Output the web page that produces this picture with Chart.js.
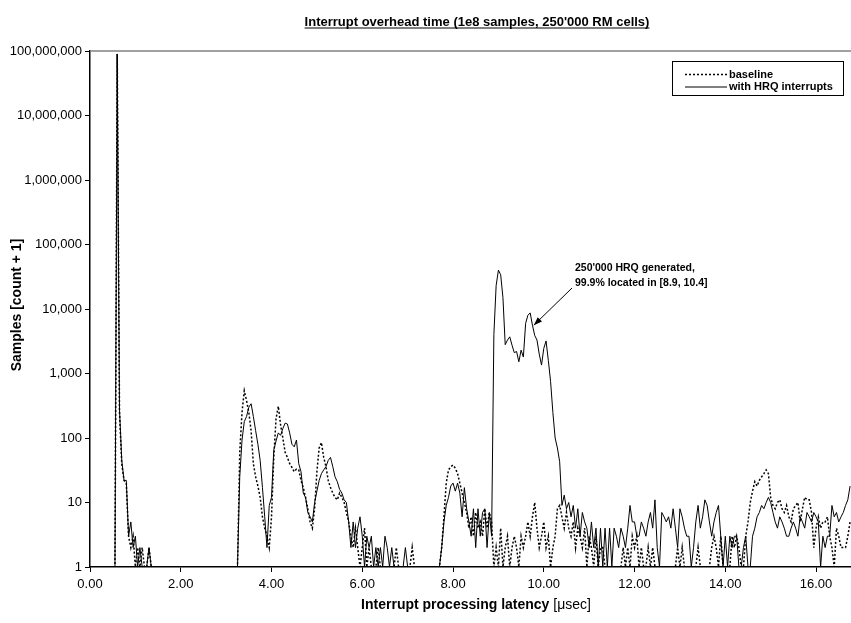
<!DOCTYPE html>
<html>
<head>
<meta charset="utf-8">
<script src="https://cdn.jsdelivr.net/npm/chart.js@4/dist/chart.umd.min.js"></script>
<style>
  html, body { margin: 0; padding: 0; background: #fff; }
</style>
</head>
<body>
<canvas id="chart" width="851" height="623"></canvas>
<script>
// Histogram of interrupt latency, one value per 0.05 usec bin (count + 1)
const binWidth = 0.05;
const xMax = 16.77;
const xTicks = [0, 2, 4, 6, 8, 10, 12, 14, 16];
const yTicks = [1, 10, 100, 1000, 10000, 100000, 1000000, 10000000, 100000000];

const chartTitle = "Interrupt overhead time (1e8 samples, 250'000 RM cells)";
const xTitleBold = 'Interrupt processing latency ';
const xTitleUnit = '[\u03bcsec]';
const yTitle = 'Samples [count + 1]';
const seriesLabels = ['baseline', 'with HRQ interrupts'];
const noteLines = ["250'000 HRQ generated,", '99.9% located in [8.9, 10.4]'];
const noteTip = [9.78, 5600];

const baseline = [
    1, 1, 1, 1, 1, 1, 1, 1, 1, 1,
    1, 1, 90000000, 250, 40, 22, 20, 3, 2, 3,
    1, 2, 1, 2, 1, 1, 2, 1, 1, 1,
    1, 1, 1, 1, 1, 1, 1, 1, 1, 1,
    1, 1, 1, 1, 1, 1, 1, 1, 1, 1,
    1, 1, 1, 1, 1, 1, 1, 1, 1, 1,
    1, 1, 1, 1, 1, 1, 60, 250, 540, 380,
    250, 130, 40, 25, 18, 12, 6, 4, 3, 2,
    6, 50, 200, 310, 160, 100, 60, 50, 40, 35,
    30, 33, 32, 22, 17, 12, 8, 5, 4, 8,
    30, 70, 85, 50, 36, 22, 17, 14, 12, 11,
    14, 12, 10, 7, 5, 3, 2, 4, 2, 1,
    2, 4, 1, 2, 1, 1, 1, 2, 1, 1,
    1, 1, 1, 1, 1, 2, 1, 1, 1, 1,
    1, 1, 2, 1, 1, 1, 1, 1, 1, 1,
    1, 1, 1, 1, 1, 2, 6, 20, 32, 36,
    38, 34, 28, 20, 14, 10, 7, 4, 6, 3,
    7, 4, 5, 3, 8, 4, 7, 5, 1, 2,
    1, 4, 1, 2, 3, 1, 2, 3, 2, 1,
    3, 2, 3, 5, 3, 6, 10, 4, 2, 3,
    5, 2, 3, 1, 2, 3, 8, 9, 6, 4,
    7, 4, 3, 5, 2, 4, 3, 2, 4, 1,
    3, 2, 1, 3, 1, 2, 2, 1, 1, 1,
    1, 1, 1, 1, 1, 2, 1, 2, 1, 3,
    2, 3, 1, 2, 1, 1, 2, 1, 2, 1,
    1, 1, 1, 1, 1, 1, 1, 1, 1, 2,
    1, 2, 1, 1, 1, 1, 1, 1, 2, 1,
    1, 1, 1, 1, 2, 3, 2, 1, 3, 1,
    1, 1, 1, 3, 2, 3, 2, 1, 1, 3,
    5, 10, 15, 21, 18, 22, 25, 28, 32, 28,
    12, 9, 8, 10, 11, 8, 7, 9, 6, 5,
    8, 9, 10, 5, 8, 12, 11, 11, 7, 2,
    4, 6, 4, 5, 5, 6, 3, 2, 1, 4,
    3, 2, 2, 2, 3, 5,
];

const withHrq = [
    1, 1, 1, 1, 1, 1, 1, 1, 1, 1,
    1, 1, 90000000, 280, 45, 22, 22, 3, 5, 2,
    3, 1, 2, 1, 1, 1, 2, 1, 1, 1,
    1, 1, 1, 1, 1, 1, 1, 1, 1, 1,
    1, 1, 1, 1, 1, 1, 1, 1, 1, 1,
    1, 1, 1, 1, 1, 1, 1, 1, 1, 1,
    1, 1, 1, 1, 1, 1, 25, 93, 180, 215,
    300, 340, 215, 130, 80, 45, 17, 6, 2, 9,
    12, 65, 90, 120, 110, 140, 170, 165, 120, 80,
    73, 93, 40, 30, 14, 12, 7, 6, 5, 10,
    15, 22, 28, 32, 36, 45, 50, 36, 25, 21,
    16, 14, 11, 10, 5, 2, 5, 2, 4, 6,
    3, 1, 3, 2, 3, 1, 2, 1, 2, 1,
    3, 2, 1, 2, 1, 1, 1, 1, 1, 2,
    1, 1, 1, 1, 1, 1, 1, 1, 1, 1,
    1, 1, 1, 1, 1, 2, 5, 9, 12, 18,
    20, 15, 20, 14, 6, 17, 8, 5, 3, 8,
    2, 8, 3, 7, 8, 2, 7, 3, 4000, 23000,
    40000, 34000, 15000, 2800, 3300, 3700, 2750, 2100, 2200, 1520,
    2300, 1800, 6000, 8000, 8700, 5600, 3900, 3300, 2000, 1350,
    2450, 3200, 1600, 750, 250, 100, 70, 43, 9, 13,
    8, 10, 6, 9, 4, 8, 3, 7, 5, 4,
    2, 5, 2, 4, 1, 4, 1, 4, 1, 4,
    1, 4, 3, 2, 4, 3, 2, 4, 9, 5,
    5, 3, 3, 5, 4, 3, 5, 7, 4, 11,
    2, 1, 7, 6, 5, 6, 4, 8, 4, 2,
    8, 6, 4, 3, 3, 1, 2, 5, 9, 4,
    6, 11, 9, 5, 3, 5, 7, 9, 3, 1,
    3, 1, 3, 2, 3, 3, 1, 1, 2, 3,
    1, 1, 3, 4, 6, 7, 9, 8, 10, 12,
    10, 7, 5, 4, 6, 5, 4, 3, 3, 4,
    5, 4, 3, 6, 5, 4, 7, 6, 5, 7,
    6, 5, 1, 3, 2, 3, 3, 9, 6, 7,
    5, 6, 7, 9, 11, 18,
];

const FONT = '"Liberation Sans", Arial, sans-serif';

const toPoints = (arr) => arr.map((y, i) => ({ x: +(i * binWidth).toFixed(2), y }));

// Title, axis titles, legend box and the arrow note, drawn on top of the chart
const decorations = {
    id: 'decorations',
    afterDraw(chart) {
        const { ctx, chartArea: a, scales } = chart;
        ctx.save();

        ctx.strokeStyle = '#808080';
        ctx.lineWidth = 1.5;
        ctx.beginPath();
        ctx.moveTo(a.left, a.top);
        ctx.lineTo(a.right, a.top);
        ctx.stroke();

        ctx.fillStyle = '#000';
        ctx.font = `bold 13px ${FONT}`;
        ctx.textAlign = 'center';
        ctx.textBaseline = 'alphabetic';
        const tw = ctx.measureText(chartTitle).width;
        ctx.fillText(chartTitle, 477, 26);
        ctx.fillRect(477 - tw / 2, 27.5, tw, 1);

        ctx.save();
        ctx.translate(17, 305);
        ctx.rotate(-Math.PI / 2);
        ctx.font = `bold 14px ${FONT}`;
        ctx.textBaseline = 'middle';
        ctx.fillText(yTitle, 0, 0);
        ctx.restore();

        ctx.font = `bold 14px ${FONT}`;
        const w1 = ctx.measureText(xTitleBold).width;
        ctx.font = `14px ${FONT}`;
        const w2 = ctx.measureText(xTitleUnit).width;
        let x0 = 476 - (w1 + w2) / 2;
        ctx.textAlign = 'left';
        ctx.font = `bold 14px ${FONT}`;
        ctx.fillText(xTitleBold, x0, 609);
        ctx.font = `14px ${FONT}`;
        ctx.fillText(xTitleUnit, x0 + w1, 609);

        // legend
        ctx.strokeStyle = '#000';
        ctx.lineWidth = 1;
        ctx.strokeRect(672.5, 61.5, 171, 34);
        const rows = [74.5, 87];
        chart.data.datasets.forEach((ds, i) => {
            ctx.setLineDash(ds.borderDash || []);
            ctx.lineWidth = ds.borderWidth;
            ctx.beginPath();
            ctx.moveTo(685, rows[i]);
            ctx.lineTo(727, rows[i]);
            ctx.stroke();
            ctx.setLineDash([]);
            ctx.font = `bold 11px ${FONT}`;
            ctx.textBaseline = 'middle';
            ctx.fillText(ds.label, 729, rows[i]);
        });

        // note with arrow
        ctx.font = `bold 10.5px ${FONT}`;
        ctx.fillText(noteLines[0], 575, 268);
        ctx.fillText(noteLines[1], 575, 283);
        const tx = scales.x.getPixelForValue(noteTip[0]);
        const ty = scales.y.getPixelForValue(noteTip[1]);
        const sx = 572, sy = 288;
        ctx.lineWidth = 1;
        ctx.beginPath();
        ctx.moveTo(sx, sy);
        ctx.lineTo(tx, ty);
        ctx.stroke();
        const ang = Math.atan2(ty - sy, tx - sx);
        ctx.beginPath();
        ctx.moveTo(tx, ty);
        ctx.lineTo(tx - 9 * Math.cos(ang - 0.35), ty - 9 * Math.sin(ang - 0.35));
        ctx.lineTo(tx - 9 * Math.cos(ang + 0.35), ty - 9 * Math.sin(ang + 0.35));
        ctx.closePath();
        ctx.fill();

        ctx.restore();
    },
};

new Chart(document.getElementById('chart'), {
    type: 'line',
    data: {
        datasets: [{
            label: seriesLabels[0],
            data: toPoints(baseline),
            borderColor: '#000',
            borderWidth: 1.5,
            borderDash: [2, 2],
            pointRadius: 0,
            tension: 0,
        }, {
            label: seriesLabels[1],
            data: toPoints(withHrq),
            borderColor: '#000',
            borderWidth: 1,
            pointRadius: 0,
            tension: 0,
        }],
    },
    options: {
        responsive: false,
        animation: false,
        layout: { padding: { top: 51, left: 0, right: 0, bottom: 0 } },
        plugins: {
            legend: { display: false },
            tooltip: { enabled: false },
        },
        scales: {
            x: {
                type: 'linear',
                min: 0,
                max: xMax,
                afterBuildTicks: (s) => { s.ticks = xTicks.map((v) => ({ value: v })); },
                afterFit: (s) => { s.height = 56; },
                ticks: {
                    callback: (v) => Number(v).toFixed(2),
                    color: '#000',
                    font: { family: FONT, size: 13 },
                    padding: 5,
                    maxRotation: 0,
                },
                grid: { drawOnChartArea: false, tickLength: 5, color: '#000', lineWidth: 1 },
                border: { color: '#000', width: 1.5 },
            },
            y: {
                type: 'logarithmic',
                min: 1,
                max: 100000000,
                afterBuildTicks: (s) => { s.ticks = yTicks.map((v) => ({ value: v })); },
                afterFit: (s) => { s.width = 90; },
                ticks: {
                    callback: (v) => Number(v).toLocaleString('en-US'),
                    color: '#000',
                    font: { family: FONT, size: 13 },
                    padding: 3,
                },
                grid: { drawOnChartArea: false, tickLength: 5, color: '#000', lineWidth: 1 },
                border: { color: '#000', width: 1.5 },
            },
        },
    },
    plugins: [decorations],
});
</script>
</body>
</html>
